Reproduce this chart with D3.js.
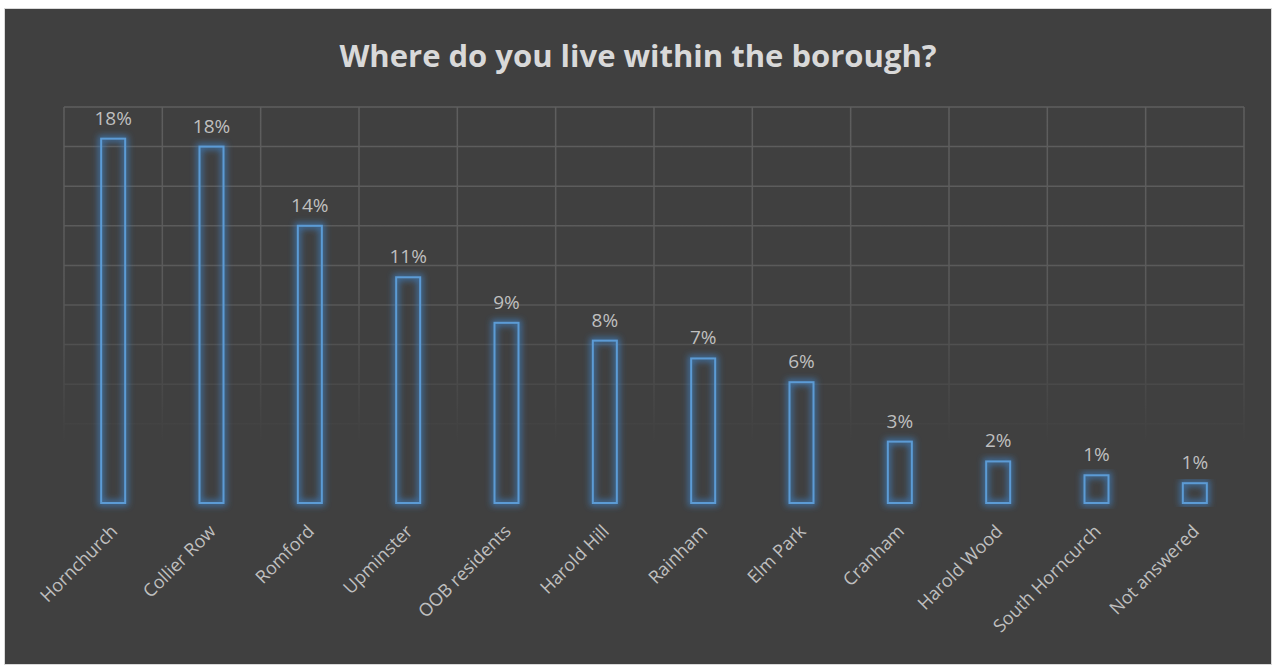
<!DOCTYPE html>
<html>
<head>
<meta charset="utf-8">
<script src="https://cdn.jsdelivr.net/npm/d3@7"></script>
<style>
  body { margin: 0; background: #ffffff; }
  svg { display: block; }
</style>
</head>
<body>
<div id="chart"></div>
<script>
// data
var areas = ["Hornchurch", "Collier Row", "Romford", "Upminster", "OOB residents", "Harold Hill",
    "Rainham", "Elm Park", "Cranham", "Harold Wood", "South Horncurch", "Not answered"];
var shares = [18.4, 18.0, 14.0, 11.4, 9.1, 8.2, 7.3, 6.1, 3.1, 2.1, 1.4, 1.0];
var yTicks = [0, 2, 4, 6, 8, 10, 12, 14, 16, 18, 20];

var svgWidth = 1275;
var svgHeight = 669;

var margin = { top: 107, right: 31, bottom: 166, left: 64 };
var width = svgWidth - margin.left - margin.right;
var height = svgHeight - margin.top - margin.bottom;

var svg = d3.select("#chart").append("svg")
    .attr("width", svgWidth)
    .attr("height", svgHeight);

// chart area background + frame
svg.append("rect")
    .attr("x", 4.5).attr("y", 8.5)
    .attr("width", 1267).attr("height", 656)
    .attr("fill", "#404040")
    .attr("stroke", "#d9d9d9")
    .attr("stroke-width", 1);

var defs = svg.append("defs");

// glow around the bars
var glow = defs.append("filter").attr("id", "glow")
    .attr("x", "-60%").attr("y", "-20%").attr("width", "220%").attr("height", "140%");
glow.append("feMorphology").attr("in", "SourceAlpha").attr("operator", "dilate").attr("radius", 2).attr("result", "thick");
glow.append("feGaussianBlur").attr("in", "thick").attr("stdDeviation", 3).attr("result", "blur");
glow.append("feFlood").attr("flood-color", "#3f7fc0").attr("flood-opacity", 0.75);
glow.append("feComposite").attr("in2", "blur").attr("operator", "in").attr("result", "glowc");
var merge = glow.append("feMerge");
merge.append("feMergeNode").attr("in", "glowc");
merge.append("feMergeNode").attr("in", "SourceGraphic");

var chartGroup = svg.append("g")
    .attr("transform", `translate(${margin.left}, ${margin.top})`);

// gridlines fade out towards the bottom
var grad = defs.append("linearGradient").attr("id", "gridFade")
    .attr("gradientUnits", "userSpaceOnUse")
    .attr("x1", 0).attr("y1", 0).attr("x2", 0).attr("y2", height);
grad.append("stop").attr("offset", "0%").attr("stop-color", "#5e5e5e");
grad.append("stop").attr("offset", "45%").attr("stop-color", "#5a5a5a");
grad.append("stop").attr("offset", "85%").attr("stop-color", "#404040");
grad.append("stop").attr("offset", "100%").attr("stop-color", "#404040");

var xScale = d3.scaleBand()
    .domain(areas)
    .range([0, width]);

var yScale = d3.scaleLinear()
    .domain([0, 20])
    .range([height, 0]);

// horizontal gridlines
chartGroup.selectAll(".hgrid")
    .data(yTicks.filter(d => d > 0))
    .enter()
    .append("line")
    .attr("x1", 0).attr("x2", width)
    .attr("y1", d => yScale(d)).attr("y2", d => yScale(d))
    .attr("stroke", "url(#gridFade)")
    .attr("stroke-width", 1.5);

// vertical gridlines (category edges)
var edges = areas.map(d => xScale(d)).concat([width]);
chartGroup.selectAll(".vgrid")
    .data(edges)
    .enter()
    .append("line")
    .attr("x1", d => d).attr("x2", d => d)
    .attr("y1", 0).attr("y2", height)
    .attr("stroke", "url(#gridFade)")
    .attr("stroke-width", 1.5);

var barW = 24;

chartGroup.selectAll(".bar")
    .data(shares)
    .enter()
    .append("rect")
    .attr("x", (d, i) => xScale(areas[i]) + xScale.bandwidth() / 2 - barW / 2)
    .attr("y", d => yScale(d))
    .attr("width", barW)
    .attr("height", d => height - yScale(d))
    .attr("fill", "none")
    .attr("stroke", "#5b9bd5")
    .attr("stroke-width", 2)
    .attr("filter", "url(#glow)");

// value labels
chartGroup.selectAll(".val")
    .data(shares)
    .enter()
    .append("text")
    .attr("x", (d, i) => xScale(areas[i]) + xScale.bandwidth() / 2)
    .attr("y", d => yScale(d) - 14)
    .attr("text-anchor", "middle")
    .attr("font-family", "Open Sans, sans-serif")
    .attr("font-size", "19px")
    .attr("fill", "#bfbfbf")
    .text(d => Math.round(d) + "%");

// category labels, rotated
var xAxis = chartGroup.append("g")
    .attr("transform", `translate(0, ${height})`)
    .call(d3.axisBottom(xScale).tickSize(0).tickPadding(0));
xAxis.select(".domain").remove();
xAxis.selectAll("text")
    .attr("font-family", "Open Sans, sans-serif")
    .attr("font-size", "18px")
    .attr("fill", "#bfbfbf")
    .attr("text-anchor", "end")
    .attr("dy", "0.35em")
    .attr("transform", "translate(1, 25) rotate(-45)");

// title
svg.append("text")
    .attr("x", 638)
    .attr("y", 67)
    .attr("text-anchor", "middle")
    .attr("font-family", "Open Sans, sans-serif")
    .attr("font-weight", "bold")
    .attr("font-size", "31px")
    .attr("fill", "#d9d9d9")
    .text("Where do you live within the borough?");
</script>
</body>
</html>
